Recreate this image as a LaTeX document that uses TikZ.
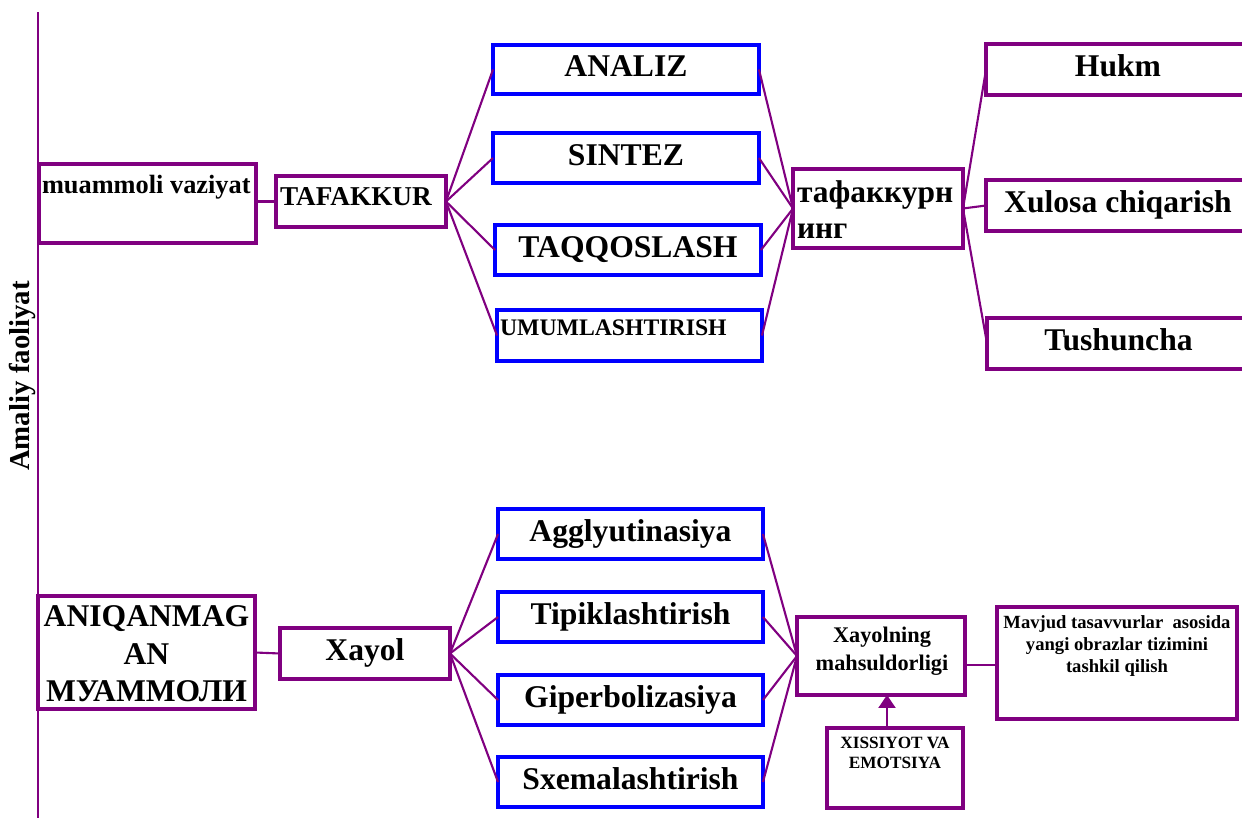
\documentclass[tikz,border=0pt]{standalone}
\usepackage{fontspec}
\setmainfont{Liberation Serif}
\usetikzlibrary{arrows.meta}

\definecolor{vio}{RGB}{128,0,128}
\definecolor{blu}{RGB}{0,0,255}

\tikzset{
  box/.style={draw=vio, line width=1.8pt, inner sep=0pt, outer sep=0pt},
  bbox/.style={box, draw=blu, line width=2.2pt},
  big/.style={font=\bfseries\fontsize{18}{21.3}\selectfont, text height=12.6pt, text depth=4.5pt},
  txt/.style={inner sep=0pt, outer sep=0pt},
  link/.style={draw=vio, line width=1.2pt},
}

\begin{document}
\begin{tikzpicture}[x=0.02cm, y=-0.02cm]
\useasboundingbox (0,0) rectangle (1242,818);

% chap chiziq
\coordinate (top) at (38,12);
\coordinate (bot) at (38,818);
\draw[vio, line width=1.7pt] (top) -- (bot);
\node[txt, rotate=90, font=\bfseries\fontsize{16.4}{19}\selectfont] (amaliy) at (22,376) {Amaliy faoliyat};

% tafakkur
\node[box, minimum width=4.34cm, minimum height=1.58cm] (muam) at (147.5,203.5) {};
\node[txt, anchor=base west, font=\bfseries\fontsize{15}{18}\selectfont] (muam-t) at (42,193) {muammoli vaziyat};
\node[box, minimum width=3.4cm, minimum height=1.02cm] (tafak) at (361,201.5) {};
\node[txt, anchor=base west, font=\bfseries\fontsize{15.5}{18}\selectfont] (tafak-t) at (280,205) {TAFAKKUR};

\node[bbox, big, minimum width=5.32cm, minimum height=0.98cm] (analiz) at (626,69.5) {ANALIZ};
\node[bbox, big, minimum width=5.32cm, minimum height=1cm] (sintez) at (626,158) {SINTEZ};
\node[bbox, big, minimum width=5.32cm, minimum height=1cm] (taqqos) at (628,250) {TAQQOSLASH};
\node[bbox, minimum width=5.3cm, minimum height=1.02cm] (umum) at (629.5,335.5) {};
\node[txt, anchor=base west, font=\bfseries\fontsize{13.5}{16}\selectfont] (umum-t) at (500,335) {UMUMLASHTIRISH};

\node[box, minimum width=3.4cm, minimum height=1.58cm] (tafng) at (878,208.5) {};
\node[txt, anchor=north west, align=left, font=\bfseries\fontsize{17.9}{20.5}\selectfont] (tafng-t) at (797,181) {тафаккурн\\инг};

\node[box, big, minimum width=5.28cm, minimum height=1.02cm] (hukm) at (1118,69.5) {Hukm};
\node[box, big, minimum width=5.28cm, minimum height=1.02cm] (xulosa) at (1118,205.5) {Xulosa chiqarish};
\node[box, big, minimum width=5.26cm, minimum height=1.02cm] (tush) at (1118.5,343.5) {Tushuncha};

% xayol
\node[box, minimum width=4.34cm, minimum height=2.26cm] (aniq) at (146.5,652.5) {};
\node[txt, anchor=north, align=center, font=\bfseries\fontsize{18}{21.3}\selectfont] (aniq-t) at (146.5,606) {ANIQANMAG\\AN\\МУАММОЛИ};
\node[box, big, minimum width=3.4cm, minimum height=1.02cm] (xayol) at (365,653.5) {Xayol};

\node[bbox, big, minimum width=5.3cm, minimum height=1cm] (agg) at (630.5,534) {Agglyutinasiya};
\node[bbox, big, minimum width=5.3cm, minimum height=1cm] (tip) at (630.5,617) {Tipiklashtirish};
\node[bbox, big, minimum width=5.3cm, minimum height=1cm] (gip) at (630.5,700) {Giperbolizasiya};
\node[bbox, big, minimum width=5.3cm, minimum height=1cm] (sxe) at (630.5,782) {Sxemalashtirish};

\node[box, minimum width=3.36cm, minimum height=1.56cm] (xmahs) at (881,656) {};
\node[txt, anchor=north, align=center, font=\bfseries\fontsize{12.7}{16}\selectfont] (xmahs-t) at (882,627) {Xayolning\\mahsuldorligi};
\node[box, minimum width=2.72cm, minimum height=1.6cm] (xiss) at (895,768) {};
\node[txt, anchor=north, align=center, font=\bfseries\fontsize{9.8}{11.4}\selectfont] (xiss-t) at (895,737) {XISSIYOT VA\\EMOTSIYA};
\node[box, minimum width=4.8cm, minimum height=2.24cm] (mavjud) at (1117,663) {};
\node[txt, anchor=north, align=center, font=\bfseries\fontsize{10.6}{12.5}\selectfont] (mavjud-t) at (1117,615.5) {Mavjud tasavvurlar\ \ asosida\\yangi obrazlar tizimini\\tashkil qilish};

% bog'lovchi chiziqlar
\path[link]
  (tafak.west -| muam.east) edge (tafak.west)
  (tafak.east) edge (analiz.west) edge (sintez.west) edge (taqqos.west) edge (umum.west)
  (tafng.west) edge (analiz.east) edge (sintez.east) edge (taqqos.east) edge (umum.east)
  (tafng.east) edge (hukm.west) edge (xulosa.west) edge (tush.west);
\path[link]
  (aniq.east) edge (xayol.west)
  (xayol.east) edge (agg.west) edge (tip.west) edge (gip.west) edge (sxe.west)
  (xmahs.west) edge (agg.east) edge (tip.east) edge (gip.east) edge (sxe.east)
  ([yshift=-0.18cm]xmahs.east) edge ([yshift=-0.18cm]xmahs.east -| mavjud.west);
\draw[link, -{Triangle[width=0.34cm, length=0.26cm]}] ([xshift=-0.16cm]xiss.north) -- ([xshift=-0.16cm]xiss.north |- xmahs.south);
\end{tikzpicture}
\end{document}
